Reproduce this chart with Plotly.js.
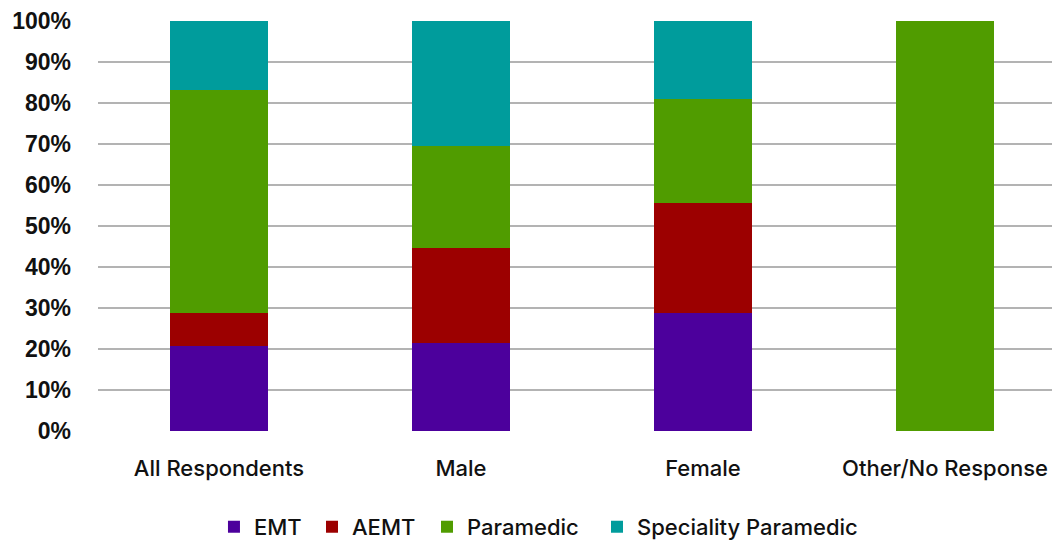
<!DOCTYPE html>
<html>
<head>
<meta charset="utf-8">
<script src="https://cdn.plot.ly/plotly-3.0.1.min.js"></script>
<style>
  html, body { margin: 0; padding: 0; overflow: hidden; background: #fff; }
  #chart { width: 1070px; height: 541px; }
</style>
</head>
<body>
<div id="chart"></div>
<script>
// Certification level share by respondent gender (percent of each group)
const categories = ["All Respondents", "Male", "Female", "Other/No Response"];
const emt        = [20.8, 21.5, 28.8, 0];
const aemt       = [8.0, 23.2, 26.8, 0];
const paramedic  = [54.3, 24.7, 25.3, 100];
const speciality = [16.9, 30.6, 19.1, 0];
const seriesNames = ["EMT", "AEMT", "Paramedic", "Speciality Paramedic"];
const yTickVals = [0, 10, 20, 30, 40, 50, 60, 70, 80, 90, 100];
const yTickText = ["0%", "10%", "20%", "30%", "40%", "50%", "60%", "70%", "80%", "90%", "100%"];

const colors = ["#4c009c", "#9c0000", "#509c00", "#009c9c"];
const values = [emt, aemt, paramedic, speciality];
// one legend box per series so the entries can be spaced out evenly
const legendIds = ["legend", "legend2", "legend3", "legend4"];
const legendX = [0.1198, 0.2211, 0.3399, 0.5155];

const traces = values.map((v, i) => ({
  type: "bar",
  name: seriesNames[i],
  x: categories,
  y: v,
  legend: legendIds[i],
  marker: { color: colors[i], line: { width: 0 } },
  hoverinfo: "x+y+name"
}));

const legendFont = { family: "Inter, sans-serif", size: 22, weight: 500, color: "#111" };

const layout = {
  width: 1070,
  height: 541,
  barmode: "stack",
  bargap: 0.595,
  paper_bgcolor: "#fff",
  plot_bgcolor: "#fff",
  margin: { l: 98, r: 4, t: 21, b: 110, autoexpand: false },
  font: { family: "Inter, 'Liberation Sans', sans-serif", color: "#111", size: 20 },
  xaxis: {
    type: "category",
    automargin: false,
    showgrid: false,
    zeroline: false,
    showline: false,
    ticks: "",
    tickfont: { family: "Inter, sans-serif", size: 22, weight: 500, color: "#111" },
    ticklabelstandoff: 22
  },
  yaxis: {
    range: [0, 100],
    automargin: false,
    tickvals: yTickVals,
    ticktext: yTickText,
    showgrid: true,
    gridcolor: "#b3b3b3",
    gridwidth: 2,
    zeroline: false,
    showline: false,
    ticks: "",
    ticklabelstandoff: 26,
    tickfont: { family: "'Liberation Sans', Arial, sans-serif", size: 23, weight: "bold", color: "#111" }
  },
  showlegend: true
};

legendIds.forEach((id, i) => {
  layout[id] = {
    orientation: "h",
    x: legendX[i],
    xanchor: "left",
    y: -0.234,
    yanchor: "middle",
    font: legendFont,
    itemwidth: 30,
    bgcolor: "rgba(0,0,0,0)"
  };
});

Plotly.newPlot("chart", traces, layout, { displayModeBar: false, staticPlot: true });
</script>
</body>
</html>
